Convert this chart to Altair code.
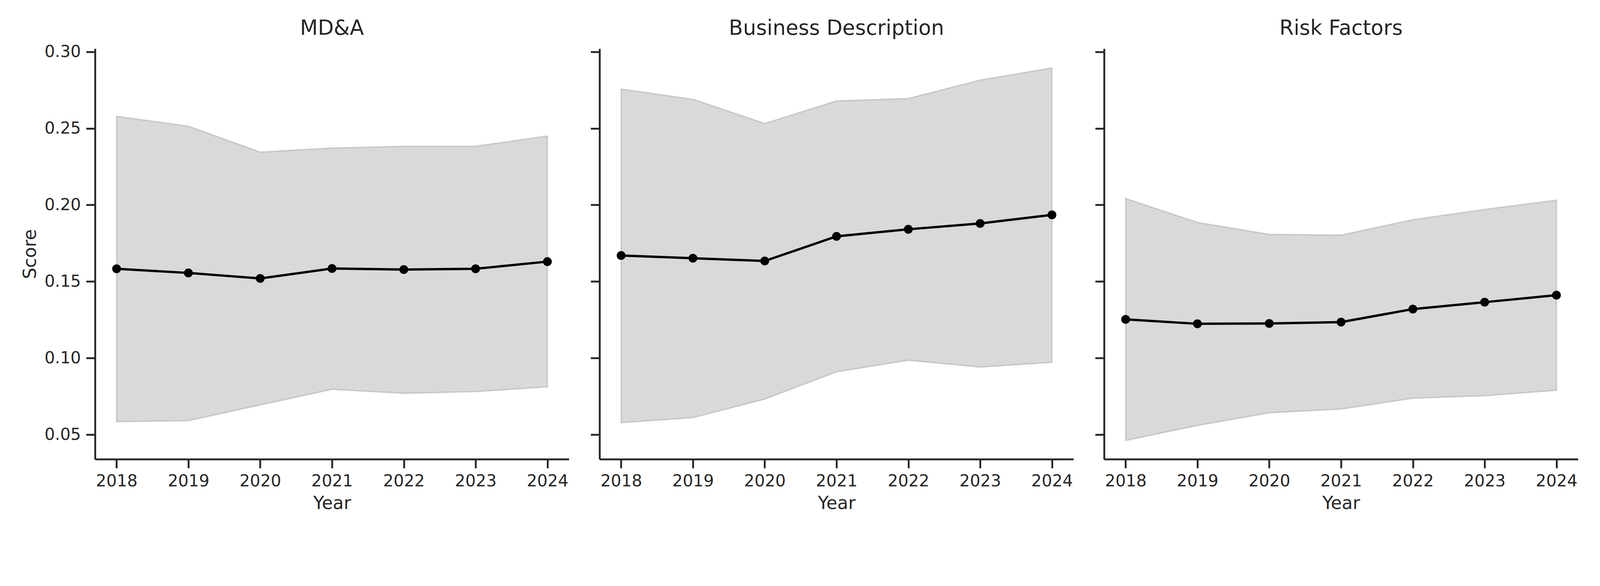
import altair as alt
import pandas as pd

years = [2018, 2019, 2020, 2021, 2022, 2023, 2024]
sections = ["MD&A", "Business Description", "Risk Factors"]

mdna_mean = [0.1583, 0.1556, 0.1520, 0.1585, 0.1578, 0.1583, 0.1630]
mdna_lower = [0.0585, 0.0591, 0.0694, 0.0796, 0.0770, 0.0781, 0.0812]
mdna_upper = [0.2579, 0.2514, 0.2345, 0.2372, 0.2383, 0.2383, 0.2450]

bus_mean = [0.1670, 0.1652, 0.1634, 0.1795, 0.1841, 0.1879, 0.1935]
bus_lower = [0.0578, 0.0611, 0.0732, 0.0910, 0.0986, 0.0941, 0.0972]
bus_upper = [0.2757, 0.2690, 0.2532, 0.2679, 0.2695, 0.2815, 0.2895]

risk_mean = [0.1253, 0.1224, 0.1226, 0.1235, 0.1320, 0.1365, 0.1411]
risk_lower = [0.0462, 0.0560, 0.0643, 0.0667, 0.0738, 0.0754, 0.0790]
risk_upper = [0.2042, 0.1886, 0.1808, 0.1803, 0.1904, 0.1971, 0.2031]

y_ticks = [0.05, 0.10, 0.15, 0.20, 0.25, 0.30]
x_domain = [2017.7, 2024.3]
y_domain = [0.034, 0.302]

series = [
    (mdna_mean, mdna_lower, mdna_upper),
    (bus_mean, bus_lower, bus_upper),
    (risk_mean, risk_lower, risk_upper),
]

DARK = "#262626"
W, H = 1330, 1152


def panel(name, mean, lower, upper, first):
    df = pd.DataFrame({"Year": years, "Score": mean, "Lower": lower, "Upper": upper})
    xs = alt.X(
        "Year:Q",
        scale=alt.Scale(domain=x_domain, nice=False, zero=False),
        axis=alt.Axis(values=years, format="d", title="Year"),
    )
    yscale = alt.Scale(domain=y_domain, nice=False, zero=False)
    if first:
        yaxis = alt.Axis(values=y_ticks, format=".2f", title="Score")
        title = alt.TitleParams(name)
    else:
        yaxis = alt.Axis(values=y_ticks, labels=False, title=None)
        title = alt.TitleParams(name, dy=-14)
    base = alt.Chart(df)
    band = base.mark_area(
        color="#808080", fillOpacity=0.3, stroke="#808080", strokeOpacity=0.3, strokeWidth=4
    ).encode(x=xs, y=alt.Y("Lower:Q", scale=yscale, axis=yaxis), y2="Upper:Q")
    line = base.mark_line(color="black", strokeWidth=6.5).encode(
        x=xs, y=alt.Y("Score:Q", scale=yscale, axis=yaxis)
    )
    pts = base.mark_point(filled=True, color="black", size=615, opacity=1).encode(
        x=xs, y=alt.Y("Score:Q", scale=yscale, axis=yaxis)
    )
    return alt.layer(band, line, pts).properties(width=W, height=H, title=title)


panels = [panel(sections[i], *series[i], first=(i == 0)) for i in range(3)]

chart = (
    alt.hconcat(*panels, spacing=58)
    .properties(padding={"left": 51, "top": -24, "right": 53, "bottom": 5})
    .configure_view(stroke=None)
    .configure_axis(
        grid=False,
        domainColor=DARK,
        domainWidth=5.2,
        tickColor=DARK,
        tickWidth=5.2,
        tickSize=25,
        labelFont="DejaVu Sans",
        labelFontSize=46,
        labelColor=DARK,
        labelPadding=15,
        labelFlush=False,
        labelOverlap=False,
        titleFont="DejaVu Sans",
        titleFontSize=50,
        titleFontWeight="normal",
        titleColor=DARK,
        titlePadding=14,
    )
    .configure_title(
        font="DejaVu Sans", fontSize=58, fontWeight="normal", color=DARK, offset=13, anchor="middle"
    )
)

chart.save("out.html", embed_options={"renderer": "svg", "actions": False})
